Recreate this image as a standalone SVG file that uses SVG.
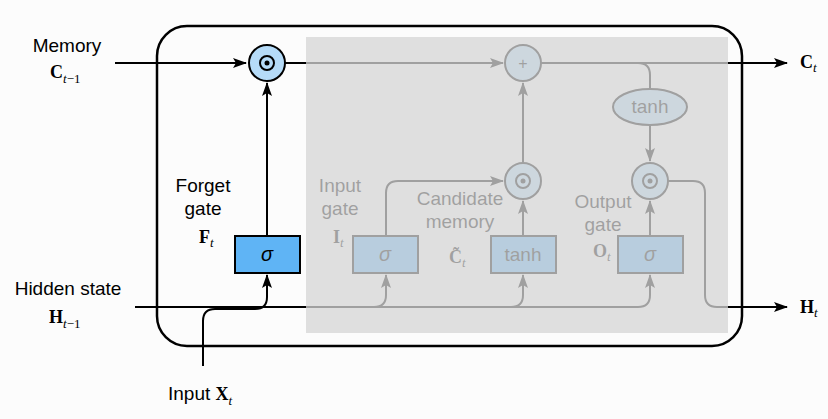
<svg xmlns="http://www.w3.org/2000/svg" width="828" height="419" viewBox="0 0 828 419">
<style>
.ln{fill:none;stroke:#000;stroke-width:2}
.lbl{font-family:"Liberation Sans",Arial,sans-serif;font-size:19px;fill:#000}
.mid{text-anchor:middle}
.bv{font-family:"Liberation Serif","Times New Roman",serif;font-weight:bold;font-size:18px;fill:#000}
.sub{font-family:"Liberation Serif","Times New Roman",serif;font-style:italic;font-weight:normal;font-size:13px}
.box{fill:#5fb4f5;stroke:#000;stroke-width:2}
.op{fill:#b5dbf8;stroke:#000;stroke-width:2}
.sig{font-family:"Liberation Sans",Arial,sans-serif;font-style:italic;font-size:20px;text-anchor:middle;fill:#000}
</style>
<defs>
<marker id="ar" markerUnits="userSpaceOnUse" markerWidth="14" markerHeight="12" viewBox="0 0 14 12" refX="13" refY="6" orient="auto">
<path d="M0,1 L14,6 L0,11 L3,6 Z" fill="#000"/>
</marker>
</defs>
<rect width="828" height="419" fill="#fcfcfc"/>
<g id="connectors">
<path class="ln" d="M115,63 H246" marker-end="url(#ar)"/>
<path class="ln" d="M285,63 H503" marker-end="url(#ar)"/>
<path class="ln" d="M541,63 H787" marker-end="url(#ar)"/>
<path class="ln" d="M638,63 Q650,63 650,75 V89"/>
<path class="ln" d="M650,125 V161" marker-end="url(#ar)"/>
<path class="ln" d="M267,236 V83" marker-end="url(#ar)"/>
<path class="ln" d="M523,163 V83" marker-end="url(#ar)"/>
<path class="ln" d="M386,236 V193 Q386,181 398,181 H503" marker-end="url(#ar)"/>
<path class="ln" d="M523,236 V201" marker-end="url(#ar)"/>
<path class="ln" d="M650,236 V201" marker-end="url(#ar)"/>
<path class="ln" d="M668,181 H693 Q705,181 705,193 V295 Q705,307 717,307 H787" marker-end="url(#ar)"/>
<path class="ln" d="M135,307 H638 Q650,307 650,295 V275" marker-end="url(#ar)"/>
<path class="ln" d="M374,307 Q386,307 386,295 V275" marker-end="url(#ar)"/>
<path class="ln" d="M511,307 Q523,307 523,295 V275" marker-end="url(#ar)"/>
<path class="ln" d="M203,366 V321 Q203,309 215,309 H255 Q267,309 267,297 V275" marker-end="url(#ar)"/>
</g>
<g id="forget-mul"><circle class="op" cx="267" cy="63" r="18"/><circle cx="267" cy="63" r="7" fill="none" stroke="#000" stroke-width="2"/><circle cx="267" cy="63" r="2.5" fill="#000"/></g>
<g id="forget-gate"><rect class="box" x="235" y="236" width="65" height="37"/><text class="sig" x="267" y="261">σ</text></g>
<g id="add"><circle class="op" cx="523" cy="63" r="18"/><text class="lbl mid" x="523" y="69" style="font-size:16px">+</text></g>
<g id="tanh-out"><ellipse class="op" cx="650" cy="107" rx="37" ry="18"/><text class="lbl mid" x="650" y="113">tanh</text></g>
<g id="input-mul"><circle class="op" cx="523" cy="181" r="18"/><circle cx="523" cy="181" r="7" fill="none" stroke="#000" stroke-width="2"/><circle cx="523" cy="181" r="2.5" fill="#000"/></g>
<g id="output-mul"><circle class="op" cx="650" cy="181" r="18"/><circle cx="650" cy="181" r="7" fill="none" stroke="#000" stroke-width="2"/><circle cx="650" cy="181" r="2.5" fill="#000"/></g>
<g id="input-gate"><rect class="box" x="353" y="236" width="65" height="37"/><text class="sig" x="385" y="261">σ</text></g>
<g id="candidate"><rect class="box" x="491" y="236" width="65" height="37"/><text class="lbl mid" x="523" y="261">tanh</text></g>
<g id="output-gate"><rect class="box" x="618" y="236" width="65" height="37"/><text class="sig" x="650" y="261">σ</text></g>
<g id="gate-labels">
<text class="lbl mid" x="340" y="192">Input</text>
<text class="lbl mid" x="340" y="215">gate</text>
<text class="bv" x="333" y="243">I<tspan class="sub" dy="4">t</tspan></text>
<text class="lbl mid" x="460" y="205">Candidate</text>
<text class="lbl mid" x="460" y="228">memory</text>
<text class="bv" x="449" y="263">C&#x303;<tspan class="sub" dy="4">t</tspan></text>
<text class="lbl mid" x="603" y="208">Output</text>
<text class="lbl mid" x="603" y="231">gate</text>
<text class="bv" x="593" y="257">O<tspan class="sub" dy="4">t</tspan></text>
</g>
<rect id="overlay" x="306" y="37" width="422" height="296" fill="#d6d6d6" fill-opacity="0.75"/>
<rect id="cell" x="157" y="26" width="585" height="320" rx="30" fill="none" stroke="#000" stroke-width="2.5"/>
<g id="labels">
<text class="lbl mid" x="67" y="52">Memory</text>
<text class="bv" x="50" y="78">C<tspan class="sub" dy="5">t</tspan><tspan class="sub" style="font-style:normal">−1</tspan></text>
<text class="lbl mid" x="68" y="295">Hidden state</text>
<text class="bv" x="49" y="323">H<tspan class="sub" dy="5">t</tspan><tspan class="sub" style="font-style:normal">−1</tspan></text>
<text class="lbl" x="168" y="400">Input <tspan class="bv">X</tspan><tspan class="sub" dy="5">t</tspan></text>
<text class="lbl mid" x="203" y="192">Forget</text>
<text class="lbl mid" x="203" y="215">gate</text>
<text class="bv" x="199" y="243">F<tspan class="sub" dy="4">t</tspan></text>
<text class="bv" x="800" y="68">C<tspan class="sub" dy="4">t</tspan></text>
<text class="bv" x="800" y="313">H<tspan class="sub" dy="4">t</tspan></text>
</g>
</svg>
